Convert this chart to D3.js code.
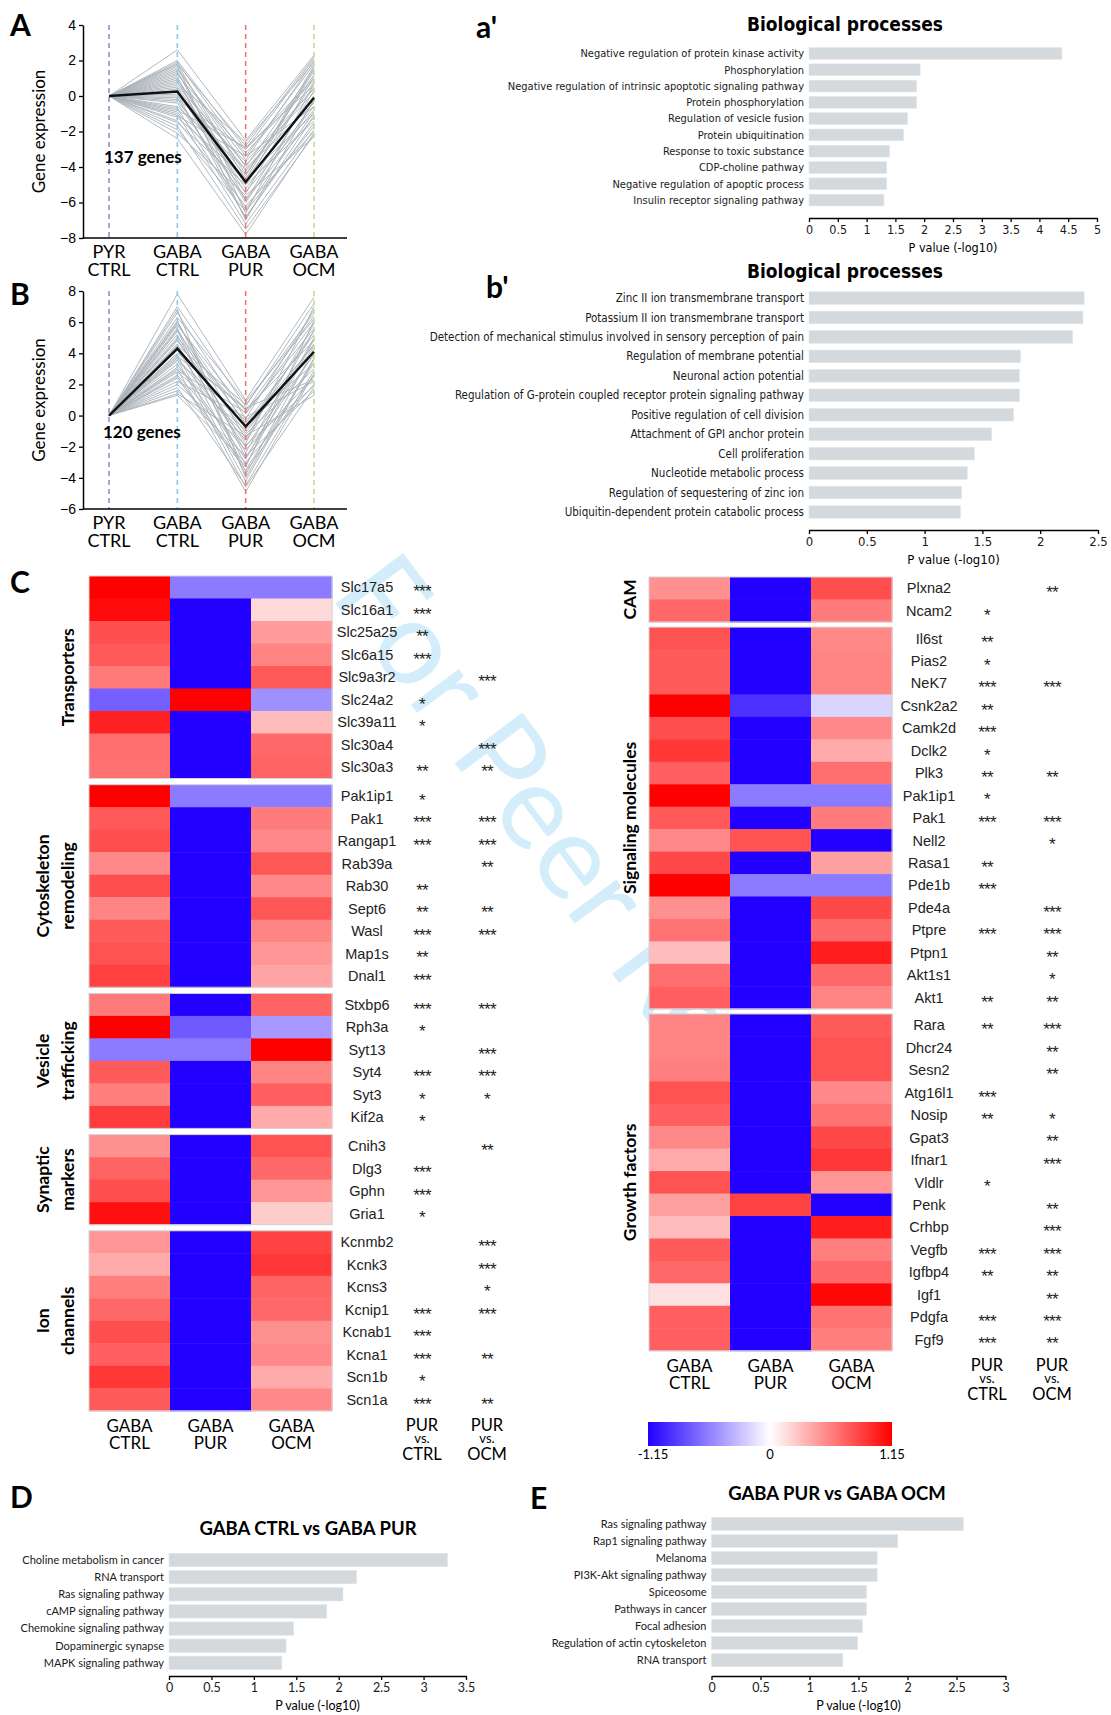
<!DOCTYPE html>
<meta charset="utf-8">
<body style="margin:0;background:#fff">
<script src="https://d3js.org/d3.v7.min.js"></script>
<script>

// ---------- data ----------
const stages = ["PYR CTRL", "GABA CTRL", "GABA PUR", "GABA OCM"];
const stageColors = ["#a088d6", "#88c9ec", "#ef766e", "#c8db8e"];

// panel A: values at GABA CTRL, GABA PUR, GABA OCM (PYR CTRL = 0)
const aProfiles = [
  [2.6, -2.5, 2.3], [2.0, -3.0, 2.1], [1.9, -3.4, 1.8], [1.8, -2.8, 2.2], [1.6, -4.0, 1.5],
  [1.5, -3.6, 2.0], [1.3, -4.4, 1.2], [1.2, -3.2, 0.9], [1.0, -5.0, 1.6], [0.9, -4.2, 0.5],
  [0.8, -5.5, 1.1], [0.6, -3.9, 0.2], [0.5, -4.8, 0.8], [0.4, -6.0, -0.3], [0.3, -4.5, 1.4],
  [0.2, -5.2, -0.6], [0.0, -3.7, 0.4], [-0.1, -6.4, -0.9], [-0.3, -4.9, 0.0], [-0.4, -5.8, -1.2],
  [-0.6, -4.1, -0.4], [-0.7, -6.8, -1.5], [-0.9, -5.4, -0.8], [-1.0, -7.2, -1.9], [-1.2, -4.6, -1.0],
  [-1.4, -6.2, -2.0], [-1.5, -5.0, -1.4], [-1.7, -7.5, -2.2], [-1.9, -6.5, -1.7], [-2.1, -5.6, -2.3],
  [-2.4, -7.8, -2.1], [1.7, -6.6, 0.7], [1.1, -7.0, -0.2], [0.7, -2.6, 1.9], [-0.2, -3.0, 1.0],
  [-1.1, -3.4, -0.6], [1.4, -5.9, 0.3], [0.1, -6.9, -1.1], [-0.8, -2.9, 0.6], [1.8, -4.7, 1.7]
];
const aMean = [0.25, -4.85, -0.1];
const aTicks = [-8, -6, -4, -2, 0, 2, 4];

// panel B
const bProfiles = [
  [7.8, 1.0, 7.6], [7.0, 0.6, 7.2], [6.6, -0.2, 6.8], [6.3, 0.9, 6.2], [6.0, -1.5, 5.9],
  [5.8, 0.3, 6.4], [5.6, -2.4, 5.5], [5.4, -0.5, 5.2], [5.2, -3.2, 4.9], [5.0, 0.1, 6.0],
  [4.8, -1.1, 4.6], [4.6, -3.8, 4.3], [4.4, -0.8, 5.4], [4.2, -2.0, 3.9], [4.0, 0.4, 4.8],
  [3.9, -4.2, 3.6], [3.7, -1.6, 4.4], [3.5, -0.3, 3.3], [3.3, -2.8, 5.0], [3.1, -1.2, 3.0],
  [3.0, -4.9, 2.7], [2.8, -0.9, 4.1], [2.6, -2.2, 2.5], [2.4, -3.5, 3.4], [2.2, -0.1, 2.2],
  [2.0, -1.9, 1.9], [1.8, -4.5, 2.9], [1.6, -2.6, 1.6], [1.4, -1.3, 1.3], [1.3, -3.0, 2.0],
  [6.8, -4.0, 3.7], [5.5, -3.6, 2.6], [4.5, 0.7, 6.6], [3.6, -4.6, 1.8], [2.9, 0.2, 5.6],
  [6.1, -2.7, 4.0], [4.9, -1.8, 7.0], [3.8, 0.5, 2.3], [5.9, -0.6, 4.5], [2.5, -3.3, 6.1]
];
const bMean = [4.3, -0.7, 4.1];
const bTicks = [-6, -4, -2, 0, 2, 4, 6, 8];

// a' biological processes
const aTerms = ["Negative regulation of protein kinase activity", "Phosphorylation",
  "Negative regulation of intrinsic apoptotic signaling pathway", "Protein phosphorylation",
  "Regulation of vesicle fusion", "Protein ubiquitination", "Response to toxic substance",
  "CDP-choline pathway", "Negative regulation of apoptic process", "Insulin receptor signaling pathway"];
const aPvals = [4.39, 1.93, 1.87, 1.87, 1.71, 1.64, 1.40, 1.35, 1.35, 1.30];

// b' biological processes
const bTerms = ["Zinc II ion transmembrane transport", "Potassium II ion transmembrane transport",
  "Detection of mechanical stimulus involved in sensory perception of pain",
  "Regulation of membrane potential", "Neuronal action potential",
  "Regulation of G-protein coupled receptor protein signaling pathway",
  "Positive regulation of cell division", "Attachment of GPI anchor protein", "Cell proliferation",
  "Nucleotide metabolic process", "Regulation of sequestering of zinc ion",
  "Ubiquitin-dependent protein catabolic process"];
const bPvals = [2.38, 2.37, 2.28, 1.83, 1.82, 1.82, 1.77, 1.58, 1.43, 1.37, 1.32, 1.31];

// D / E pathways
const dTerms = ["Choline metabolism in cancer", "RNA transport", "Ras signaling pathway",
  "cAMP signaling pathway", "Chemokine signaling pathway", "Dopaminergic synapse", "MAPK signaling pathway"];
const dPvals = [3.28, 2.21, 2.05, 1.86, 1.47, 1.38, 1.33];
const eTerms = ["Ras signaling pathway", "Rap1 signaling pathway", "Melanoma", "PI3K-Akt signaling pathway",
  "Spiceosome", "Pathways in cancer", "Focal adhesion", "Regulation of actin cytoskeleton", "RNA transport"];
const ePvals = [2.57, 1.90, 1.69, 1.69, 1.58, 1.58, 1.54, 1.49, 1.34];

// C heatmaps: values per row = [GABA CTRL, GABA PUR, GABA OCM], stars = [PUR vs CTRL, PUR vs OCM]
const conditions = ["GABA CTRL", "GABA PUR", "GABA OCM"];
const colorDomain = [-1.15, 0, 1.15];

const transGenes = ["Slc17a5", "Slc16a1", "Slc25a25", "Slc6a15", "Slc9a3r2", "Slc24a2", "Slc39a11", "Slc30a4", "Slc30a3"];
const transVals = [[1.15, -0.6, -0.6], [1.1, -1.15, 0.17], [0.8, -1.15, 0.45], [0.75, -1.15, 0.55], [0.6, -1.15, 0.75],
  [-0.72, 1.15, -0.5], [1.0, -1.15, 0.3], [0.65, -1.15, 0.68], [0.64, -1.15, 0.7]];
const transStars = [["***", ""], ["***", ""], ["**", ""], ["***", ""], ["", "***"], ["*", ""], ["*", ""], ["", "***"], ["**", "**"]];

const cytoGenes = ["Pak1ip1", "Pak1", "Rangap1", "Rab39a", "Rab30", "Sept6", "Wasl", "Map1s", "Dnal1"];
const cytoVals = [[1.15, -0.6, -0.6], [0.75, -1.15, 0.6], [0.8, -1.15, 0.53], [0.53, -1.15, 0.76], [0.8, -1.15, 0.53],
  [0.55, -1.15, 0.76], [0.74, -1.15, 0.55], [0.78, -1.15, 0.48], [0.86, -1.15, 0.41]];
const cytoStars = [["*", ""], ["***", "***"], ["***", "***"], ["", "**"], ["**", ""], ["**", "**"], ["***", "***"], ["**", ""], ["***", ""]];

const vesGenes = ["Stxbp6", "Rph3a", "Syt13", "Syt4", "Syt3", "Kif2a"];
const vesVals = [[0.6, -1.15, 0.7], [1.15, -0.75, -0.46], [-0.6, -0.6, 1.15], [0.74, -1.15, 0.55], [0.58, -1.15, 0.72], [0.88, -1.15, 0.38]];
const vesStars = [["***", "***"], ["*", ""], ["", "***"], ["***", "***"], ["*", "*"], ["*", ""]];

const synGenes = ["Cnih3", "Dlg3", "Gphn", "Gria1"];
const synVals = [[0.5, -1.15, 0.78], [0.7, -1.15, 0.68], [0.8, -1.15, 0.48], [1.08, -1.15, 0.23]];
const synStars = [["", "**"], ["***", ""], ["***", ""], ["*", ""]];

const ionGenes = ["Kcnmb2", "Kcnk3", "Kcns3", "Kcnip1", "Kcnab1", "Kcna1", "Scn1b", "Scn1a"];
const ionVals = [[0.48, -1.15, 0.85], [0.38, -1.15, 0.9], [0.58, -1.15, 0.7], [0.68, -1.15, 0.68], [0.8, -1.15, 0.5],
  [0.72, -1.15, 0.53], [0.9, -1.15, 0.38], [0.74, -1.15, 0.53]];
const ionStars = [["", "***"], ["", "***"], ["", "*"], ["***", "***"], ["***", ""], ["***", "**"], ["*", ""], ["***", "**"]];

const camGenes = ["Plxna2", "Ncam2"];
const camVals = [[0.5, -1.15, 0.8], [0.68, -1.15, 0.6]];
const camStars = [["", "**"], ["*", ""]];

const sigGenes = ["Il6st", "Pias2", "NeK7", "Csnk2a2", "Camk2d", "Dclk2", "Plk3", "Pak1ip1", "Pak1", "Nell2",
  "Rasa1", "Pde1b", "Pde4a", "Ptpre", "Ptpn1", "Akt1s1", "Akt1"];
const sigVals = [[0.78, -1.15, 0.53], [0.74, -1.15, 0.55], [0.74, -1.15, 0.55], [1.15, -0.93, -0.19], [0.8, -1.15, 0.53],
  [0.9, -1.15, 0.38], [0.72, -1.15, 0.65], [1.15, -0.6, -0.6], [0.75, -1.15, 0.6], [0.53, 0.78, -1.15],
  [0.82, -1.15, 0.43], [1.15, -0.6, -0.6], [0.5, -1.15, 0.82], [0.63, -1.15, 0.68], [0.3, -1.15, 1.02],
  [0.65, -1.15, 0.68], [0.72, -1.15, 0.55]];
const sigStars = [["**", ""], ["*", ""], ["***", "***"], ["**", ""], ["***", ""], ["*", ""], ["**", "**"], ["*", ""],
  ["***", "***"], ["", "*"], ["**", ""], ["***", ""], ["", "***"], ["***", "***"], ["", "**"], ["", "*"], ["**", "**"]];

const growGenes = ["Rara", "Dhcr24", "Sesn2", "Atg16l1", "Nosip", "Gpat3", "Ifnar1", "Vldlr", "Penk", "Crhbp",
  "Vegfb", "Igfbp4", "Igf1", "Pdgfa", "Fgf9"];
const growVals = [[0.55, -1.15, 0.74], [0.55, -1.15, 0.78], [0.58, -1.15, 0.78], [0.78, -1.15, 0.53], [0.72, -1.15, 0.63],
  [0.53, -1.15, 0.82], [0.38, -1.15, 0.9], [0.78, -1.15, 0.48], [0.43, 0.85, -1.15], [0.3, -1.15, 1.02],
  [0.74, -1.15, 0.58], [0.68, -1.15, 0.68], [0.14, -1.15, 1.12], [0.72, -1.15, 0.63], [0.72, -1.15, 0.58]];
const growStars = [["**", "***"], ["", "**"], ["", "**"], ["***", ""], ["**", "*"], ["", "**"], ["", "***"], ["*", ""],
  ["", "**"], ["", "***"], ["***", "***"], ["**", "**"], ["", "**"], ["***", "***"], ["***", "**"]];

// ---------- drawing ----------
const HELV = "'Liberation Sans', Arial, sans-serif";
const MYR = "Lato, 'Open Sans', sans-serif";
const NARROW = "'Liberation Sans Narrow', 'DejaVu Sans Condensed', sans-serif";

const svg = d3.select("body").append("svg")
  .attr("width", 1111).attr("height", 1715)
  .style("font-family", HELV);

// watermark behind everything
svg.append("text")
  .attr("transform", "translate(329,595) rotate(53.2)")
  .attr("font-family", MYR).attr("font-size", 118)
  .attr("fill", "#d3eefa")
  .text("For Peer Review");

function panelLetter(txt, x, y) {
  svg.append("text").attr("x", x).attr("y", y)
    .attr("font-family", MYR).attr("font-weight", 700).attr("font-size", 30)
    .text(txt);
}

function profilePanel(cfg) {
  const x = d3.scalePoint().domain(stages).range([109, 314]);
  const y = d3.scaleLinear().domain(cfg.domain).range(cfg.range);
  const g = svg.append("g");
  const line = d3.line().x((d, i) => x(stages[i])).y(d => y(d));

  g.selectAll(".gene").data(cfg.profiles).join("path")
    .attr("d", p => line([0, ...p]))
    .attr("fill", "none").attr("stroke", "#a9b1b8").attr("stroke-width", 0.9);

  g.selectAll(".stage").data(stages).join("line")
    .attr("x1", d => x(d)).attr("x2", d => x(d))
    .attr("y1", y(cfg.domain[1])).attr("y2", y(cfg.domain[0]))
    .attr("stroke", (d, i) => stageColors[i]).attr("stroke-width", 1.6)
    .attr("stroke-dasharray", "5,4");

  g.append("path").attr("d", line([0, ...cfg.mean]))
    .attr("fill", "none").attr("stroke", "#111").attr("stroke-width", 2.4);

  const ax = g.append("g").attr("transform", "translate(83,0)")
    .call(d3.axisLeft(y).tickValues(cfg.ticks).tickSize(4).tickSizeOuter(0));
  ax.select(".domain").attr("stroke-width", 1.5);
  ax.selectAll(".tick line").attr("stroke-width", 1.3);
  ax.selectAll("text").attr("font-size", 14).attr("font-family", HELV);

  g.append("line").attr("x1", 83).attr("x2", 347)
    .attr("y1", y(cfg.domain[0])).attr("y2", y(cfg.domain[0]))
    .attr("stroke", "#000").attr("stroke-width", 1.5);

  stages.forEach(s => {
    const parts = s.split(" ");
    parts.forEach((p, i) => {
      g.append("text").attr("x", x(s)).attr("y", y(cfg.domain[0]) + 20 + i * 18)
        .attr("text-anchor", "middle").attr("font-family", MYR).attr("font-size", 18)
        .text(p);
    });
  });

  g.append("text")
    .attr("transform", `translate(45,${(y.range()[0] + y.range()[1]) / 2}) rotate(-90)`)
    .attr("text-anchor", "middle").attr("font-family", MYR).attr("font-size", 17)
    .text("Gene expression");

  g.append("text").attr("x", cfg.labelPos[0]).attr("y", cfg.labelPos[1])
    .attr("font-family", MYR).attr("font-weight", 700).attr("font-size", 17)
    .text(cfg.label);
}

profilePanel({ domain: [-8, 4], range: [238, 25], ticks: aTicks, profiles: aProfiles, mean: aMean,
  label: "137 genes", labelPos: [104, 163] });
profilePanel({ domain: [-6, 8], range: [509, 291], ticks: bTicks, profiles: bProfiles, mean: bMean,
  label: "120 genes", labelPos: [103, 438] });
panelLetter("A", 10, 36);
panelLetter("B", 10, 305);

function barPanel(cfg) {
  const x = d3.scaleLinear().domain([0, cfg.max]).range([cfg.x0, cfg.x1]);
  const y = d3.scaleBand().domain(cfg.terms).range([cfg.y0, cfg.y1])
    .paddingInner(cfg.pad).paddingOuter(cfg.pad / 2);
  const g = svg.append("g");

  g.selectAll("rect").data(cfg.terms).join("rect")
    .attr("x", x(0)).attr("y", d => y(d))
    .attr("width", (d, i) => x(cfg.values[i]) - x(0))
    .attr("height", y.bandwidth())
    .attr("fill", "#d3d9dc").attr("stroke", "#e3e7e9").attr("stroke-width", 0.6);

  g.selectAll(".lbl").data(cfg.terms).join("text")
    .attr("x", x(0) - 5).attr("y", d => y(d) + y.bandwidth() / 2)
    .attr("dy", "0.35em").attr("text-anchor", "end")
    .attr("font-family", cfg.font).attr("font-size", cfg.fs)
    .attr("fill", "#1a1a1a")
    .text(d => d);

  const ax = g.append("g").attr("transform", `translate(0,${cfg.axisY})`)
    .call(d3.axisBottom(x).tickValues(d3.range(0, cfg.max + 1e-9, 0.5))
      .tickSize(4).tickSizeOuter(0).tickFormat(d => String(d)));
  ax.select(".domain").attr("stroke-width", 1.6);
  ax.selectAll(".tick line").attr("stroke-width", 1.3);
  ax.selectAll("text").attr("font-family", cfg.font).attr("font-size", cfg.fs + 1.5).attr("fill", "#1a1a1a");

  g.append("text").attr("x", (cfg.x0 + cfg.x1) / 2).attr("y", cfg.axisY + 34)
    .attr("text-anchor", "middle").attr("font-family", cfg.font).attr("font-size", cfg.fs + 1.5)
    .text("P value (-log10)");

  g.append("text").attr("x", cfg.titleX).attr("y", cfg.titleY)
    .attr("text-anchor", "middle").attr("font-family", cfg.titleFont)
    .attr("font-weight", 700).attr("font-size", cfg.titleFs)
    .text(cfg.title);
}

barPanel({ terms: aTerms, values: aPvals, max: 5, x0: 809, x1: 1097, y0: 45.3, y1: 208.2, pad: 0.28,
  axisY: 218, font: NARROW, fs: 11, title: "Biological processes", titleX: 845, titleY: 31,
  titleFont: NARROW, titleFs: 19 });
barPanel({ terms: bTerms, values: bPvals, max: 2.5, x0: 809, x1: 1098, y0: 288.3, y1: 521.7, pad: 0.35,
  axisY: 530, font: NARROW, fs: 11.5, title: "Biological processes", titleX: 845, titleY: 278,
  titleFont: NARROW, titleFs: 19 });
barPanel({ terms: dTerms, values: dPvals, max: 3.5, x0: 169, x1: 466, y0: 1551.4, y1: 1671.4, pad: 0.22,
  axisY: 1676, font: MYR, fs: 11, title: "GABA CTRL vs GABA PUR", titleX: 308, titleY: 1535,
  titleFont: MYR, titleFs: 18.5 });
barPanel({ terms: eTerms, values: ePvals, max: 3, x0: 711.5, x1: 1005.5, y0: 1515.5, y1: 1668.5, pad: 0.24,
  axisY: 1676, font: MYR, fs: 11, title: "GABA PUR vs GABA OCM", titleX: 837, titleY: 1500,
  titleFont: MYR, titleFs: 18.5 });
panelLetter("a'", 476, 38);
panelLetter("b'", 486, 298);
panelLetter("C", 10, 593);
panelLetter("D", 10, 1508);
panelLetter("E", 530, 1509);

// heatmaps
const heatColor = d3.scaleLinear().domain(colorDomain).range(["#2200ff", "#ffffff", "#ff0000"]);

function heatmap(groups, cfg) {
  const x = d3.scaleBand().domain(conditions).range(cfg.xr);
  const g = svg.append("g");
  let top = cfg.top;
  groups.forEach(grp => {
    const n = grp.genes.length;
    const y = d3.scaleBand().domain(grp.genes).range([top, top + n * cfg.rowH]);
    const cells = grp.vals.flatMap((row, i) => row.map((v, j) => ({ gene: grp.genes[i], cond: conditions[j], v })));
    g.selectAll(null).data(cells).join("rect")
      .attr("x", d => x(d.cond)).attr("y", d => y(d.gene))
      .attr("width", x.bandwidth() + 0.5).attr("height", y.bandwidth() + 0.5)
      .attr("fill", d => heatColor(d.v));
    g.append("rect").attr("x", cfg.xr[0]).attr("y", top)
      .attr("width", cfg.xr[1] - cfg.xr[0]).attr("height", n * cfg.rowH)
      .attr("fill", "none").attr("stroke", "#d4d4d4").attr("stroke-width", 1);

    g.selectAll(null).data(grp.genes).join("text")
      .attr("x", cfg.geneX).attr("y", d => y(d) + y.bandwidth() / 2)
      .attr("dy", "0.36em").attr("text-anchor", "middle").attr("font-size", 14.5)
      .attr("fill", "#222").text(d => d);
    grp.stars.forEach((st, i) => {
      st.forEach((s, k) => {
        if (!s) return;
        g.append("text").attr("x", cfg.starX[k]).attr("y", y(grp.genes[i]) + y.bandwidth() / 2 + 10)
          .attr("text-anchor", "middle").attr("font-size", 17).attr("letter-spacing", -0.8)
          .attr("fill", "#222").text(s);
      });
    });

    const cy = top + n * cfg.rowH / 2;
    const lines = grp.name;
    lines.forEach((ln, i) => {
      const lx = cfg.groupX - (lines.length - 1 - i) * 25 + 6;
      g.append("text").attr("transform", `translate(${lx},${cy}) rotate(-90)`)
        .attr("text-anchor", "middle").attr("font-family", MYR).attr("font-weight", 700)
        .attr("font-size", 17.5).text(ln);
    });
    top += n * cfg.rowH + cfg.gap;
  });

  const by = top - cfg.gap;
  conditions.forEach(c => {
    c.split(" ").forEach((p, i) => {
      g.append("text").attr("x", x(c) + x.bandwidth() / 2).attr("y", by + 21 + i * 17.5)
        .attr("text-anchor", "middle").attr("font-family", MYR).attr("font-size", 17).text(p);
    });
  });
  [["PUR", "vs.", "CTRL"], ["PUR", "vs.", "OCM"]].forEach((parts, k) => {
    [20, 32, 49].forEach((dy, i) => {
      g.append("text").attr("x", cfg.starX[k]).attr("y", by + dy)
        .attr("text-anchor", "middle").attr("font-family", MYR)
        .attr("font-size", i === 1 ? 13 : 16.5).text(parts[i]);
    });
  });
}

heatmap([
  { name: ["Transporters"], genes: transGenes, vals: transVals, stars: transStars },
  { name: ["Cytoskeleton", "remodeling"], genes: cytoGenes, vals: cytoVals, stars: cytoStars },
  { name: ["Vesicle", "trafficking"], genes: vesGenes, vals: vesVals, stars: vesStars },
  { name: ["Synaptic", "markers"], genes: synGenes, vals: synVals, stars: synStars },
  { name: ["Ion", "channels"], genes: ionGenes, vals: ionVals, stars: ionStars }
], { xr: [89, 332], top: 576, rowH: 22.5, gap: 6.2, geneX: 367, starX: [422, 487], groupX: 68 });

heatmap([
  { name: ["CAM"], genes: camGenes, vals: camVals, stars: camStars },
  { name: ["Signaling molecules"], genes: sigGenes, vals: sigVals, stars: sigStars },
  { name: ["Growth factors"], genes: growGenes, vals: growVals, stars: growStars }
], { xr: [649, 892], top: 577, rowH: 22.45, gap: 5.2, geneX: 929, starX: [987, 1052], groupX: 630 });

// colour bar
const cbX = d3.scaleLinear().domain([colorDomain[0], colorDomain[2]]).range([648, 892]);
const grad = svg.append("defs").append("linearGradient").attr("id", "cb");
d3.range(0, 1.0001, 0.1).forEach(t => {
  grad.append("stop").attr("offset", t)
    .attr("stop-color", heatColor(colorDomain[0] + t * (colorDomain[2] - colorDomain[0])));
});
svg.append("rect").attr("x", cbX.range()[0]).attr("y", 1422)
  .attr("width", cbX.range()[1] - cbX.range()[0]).attr("height", 24)
  .attr("fill", "url(#cb)");
colorDomain.forEach(v => {
  svg.append("text").attr("x", cbX(v) + (v < 0 ? 5 : 0)).attr("y", 1459)
    .attr("text-anchor", "middle").attr("font-family", MYR).attr("font-size", 13)
    .text(v === 0 ? "0" : String(v));
});

</script>
</body>
